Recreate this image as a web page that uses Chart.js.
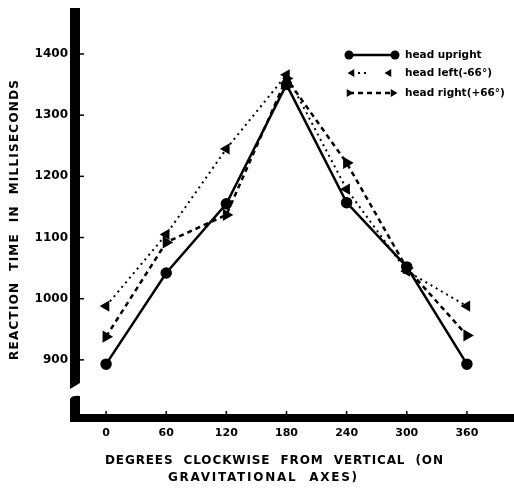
<!DOCTYPE html>
<html>
<head>
<meta charset="utf-8">
<script src="https://cdn.jsdelivr.net/npm/chart.js@4.4.1/dist/chart.umd.min.js"></script>
<style>
  html, body { margin: 0; padding: 0; background: #fff; }
</style>
</head>
<body>
<canvas id="chart" width="514" height="488"></canvas>
<script>
// data
const angles = [0, 60, 120, 180, 240, 300, 360];
const headUpright = [893, 1042, 1155, 1350, 1157, 1052, 893];
const headLeft = [988, 1105, 1245, 1366, 1179, 1045, 988];
const headRight = [938, 1092, 1137, 1360, 1222, 1050, 940];
const yTicks = [900, 1000, 1100, 1200, 1300, 1400];
const xTicks = [0, 60, 120, 180, 240, 300, 360];
const seriesNames = ['head upright', 'head left(-66°)', 'head right(+66°)'];
const yTitle = 'REACTION  TIME  IN  MILLISECONDS';
const xTitle = ['DEGREES  CLOCKWISE  FROM  VERTICAL  (ON', 'GRAVITATIONAL  AXES)'];

const FONT = '"DejaVu Sans", sans-serif';

function toPoints(values) {
    return angles.map((a, i) => ({ x: a, y: values[i] }));
}

// text stretched to a given width (old typewriter-like spacing)
function fitText(ctx, text, x, y, width) {
    ctx.letterSpacing = '0px';
    const w = ctx.measureText(text).width;
    const sp = Math.max(0, (width - w) / (text.length - 1));
    ctx.letterSpacing = sp + 'px';
    ctx.textAlign = 'left';
    ctx.fillText(text, x, y);
    ctx.letterSpacing = '0px';
}

function marker(ctx, style, rotation, x, y) {
    Chart.helpers.drawPoint(ctx, { pointStyle: style, rotation: rotation, radius: 4.5, borderWidth: 0 }, x, y);
}

// axes with the broken y axis, tick marks, legend and titles
const paperPlugin = {
    id: 'paper',
    afterDraw(chart) {
        const ctx = chart.ctx;
        const area = chart.chartArea;
        const xs = chart.scales.x;
        const ys = chart.scales.y;
        ctx.save();
        ctx.fillStyle = '#000';
        ctx.strokeStyle = '#000';

        // thick y axis, upper part with slanted cut
        const l = area.left - 5, r = area.left + 5;
        ctx.beginPath();
        ctx.moveTo(l, 8);
        ctx.lineTo(r, 8);
        ctx.lineTo(r, 383);
        ctx.lineTo(l, 389);
        ctx.closePath();
        ctx.fill();
        // lower part joined to the x axis
        ctx.beginPath();
        ctx.moveTo(l, 399);
        ctx.quadraticCurveTo(l + 2, 395, r, 396);
        ctx.lineTo(r, area.bottom - 4);
        ctx.lineTo(chart.width, area.bottom - 4);
        ctx.lineTo(chart.width, area.bottom + 4);
        ctx.lineTo(l, area.bottom + 4);
        ctx.closePath();
        ctx.fill();

        // small tick marks
        ctx.lineWidth = 1.5;
        yTicks.forEach(v => {
            const py = ys.getPixelForValue(v);
            ctx.beginPath();
            ctx.moveTo(r, py);
            ctx.lineTo(r + 4, py);
            ctx.stroke();
        });
        xTicks.forEach(v => {
            const px = xs.getPixelForValue(v);
            ctx.beginPath();
            ctx.moveTo(px, area.bottom - 4);
            ctx.lineTo(px, area.bottom - 7);
            ctx.stroke();
        });

        // legend
        const rows = [
            { y: 55, x1: 349, x2: 395, dash: [], lw: 2.5, style: 'circle', rot: 0 },
            { y: 73, x1: 352, x2: 389, dash: [2, 4], lw: 2, style: 'triangle', rot: -90, seg: 366 },
            { y: 93, x1: 349, x2: 393, dash: [5, 4], lw: 2.5, style: 'triangle', rot: 90 }
        ];
        rows.forEach((row, i) => {
            ctx.lineWidth = row.lw;
            ctx.setLineDash(row.dash);
            ctx.beginPath();
            ctx.moveTo(row.x1, row.y);
            ctx.lineTo(row.seg || row.x2, row.y);
            ctx.stroke();
            ctx.setLineDash([]);
            marker(ctx, row.style, row.rot, row.x1, row.y);
            marker(ctx, row.style, row.rot, row.x2, row.y);
            ctx.font = 'bold 10.5px ' + FONT;
            ctx.textBaseline = 'middle';
            ctx.textAlign = 'left';
            ctx.fillText(seriesNames[i], 405, row.y);
        });

        // axis titles
        ctx.font = 'bold 12px ' + FONT;
        ctx.textBaseline = 'middle';
        fitText(ctx, xTitle[0], 105, 461, 338);
        fitText(ctx, xTitle[1], 168, 478, 189);

        ctx.translate(15, 360);
        ctx.rotate(-Math.PI / 2);
        fitText(ctx, yTitle, 0, 0, 280);
        ctx.restore();
    }
};

const ctx = document.getElementById('chart').getContext('2d');
const chart = new Chart(ctx, {
    type: 'line',
    data: {
        datasets: [
            {
                label: seriesNames[0],
                data: toPoints(headUpright),
                borderColor: '#000',
                borderWidth: 2.5,
                pointStyle: 'circle',
                pointRadius: 4.5,
                pointBackgroundColor: '#000',
                pointBorderColor: '#000'
            },
            {
                label: seriesNames[1],
                data: toPoints(headLeft),
                borderColor: '#000',
                borderWidth: 2,
                borderDash: [2, 4],
                pointStyle: 'triangle',
                pointRotation: -90,
                pointRadius: 4.5,
                pointBackgroundColor: '#000',
                pointBorderColor: '#000'
            },
            {
                label: seriesNames[2],
                data: toPoints(headRight),
                borderColor: '#000',
                borderWidth: 2.5,
                borderDash: [5, 4],
                pointStyle: 'triangle',
                pointRotation: 90,
                pointRadius: 4.5,
                pointBackgroundColor: '#000',
                pointBorderColor: '#000'
            }
        ]
    },
    options: {
        responsive: false,
        animation: false,
        layout: { padding: { top: 1, left: 0, right: 0, bottom: 0 } },
        plugins: {
            legend: { display: false },
            tooltip: { enabled: false }
        },
        scales: {
            x: {
                type: 'linear',
                min: -31,
                max: 400,
                afterBuildTicks: s => { s.ticks = xTicks.map(v => ({ value: v })); },
                afterFit: s => { s.height = 70; },
                grid: { display: false, drawTicks: false },
                border: { display: false },
                ticks: {
                    color: '#000',
                    padding: 9,
                    maxRotation: 0,
                    callback: v => String(v),
                    font: { family: FONT, size: 11, weight: 'bold' }
                }
            },
            y: {
                type: 'linear',
                min: 805,
                max: 1465,
                afterBuildTicks: s => { s.ticks = yTicks.map(v => ({ value: v })); },
                afterFit: s => { s.width = 75; },
                grid: { display: false, drawTicks: false },
                border: { display: false },
                ticks: {
                    color: '#000',
                    padding: 7,
                    callback: v => String(v),
                    font: { family: FONT, size: 12, weight: 'bold' }
                }
            }
        }
    },
    plugins: [paperPlugin]
});
</script>
</body>
</html>
